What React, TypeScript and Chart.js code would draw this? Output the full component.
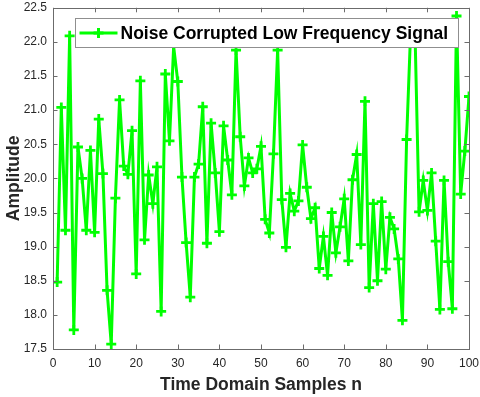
import React, { useEffect, useRef } from 'react';
import { Chart, registerables } from 'chart.js';

Chart.register(...registerables);

const sampleIndex: number[] = [
  1, 2, 3, 4, 5, 6, 7, 8, 9, 10, 11, 12, 13, 14, 15, 16, 17, 18, 19, 20,
  21, 22, 23, 24, 25, 26, 27, 28, 29, 30, 31, 32, 33, 34, 35, 36, 37, 38, 39, 40,
  41, 42, 43, 44, 45, 46, 47, 48, 49, 50, 51, 52, 53, 54, 55, 56, 57, 58, 59, 60,
  61, 62, 63, 64, 65, 66, 67, 68, 69, 70, 71, 72, 73, 74, 75, 76, 77, 78, 79, 80,
  81, 82, 83, 84, 85, 86, 87, 88, 89, 90, 91, 92, 93, 94, 95, 96, 97, 98, 99, 100,
];

const amplitude: number[] = [
  18.48, 21.04, 19.24, 22.09, 17.78, 20.46, 20.0, 19.24, 20.41, 19.21,
  20.87, 20.07, 18.36, 17.57, 19.71, 21.15, 20.18, 20.06, 20.7, 18.6,
  21.43, 19.1, 20.05, 19.63, 20.17, 18.05, 21.53, 20.55, 21.93, 21.42,
  20.02, 19.06, 18.26, 20.02, 20.21, 21.05, 19.05, 20.81, 20.08, 19.22,
  20.77, 20.27, 19.76, 21.88, 20.61, 19.89, 20.3, 20.08, 20.14, 20.47,
  19.4, 19.2, 20.36, 21.88, 19.69, 18.99, 19.78, 19.52, 19.67, 20.49,
  19.87, 19.41, 19.57, 18.68, 19.15, 18.58, 19.5, 18.91, 19.29, 19.7,
  18.79, 19.98, 20.35, 19.03, 21.13, 18.4, 19.63, 18.5, 19.66, 18.67,
  19.43, 19.26, 18.82, 17.92, 20.57, 22.2, 22.2, 19.51, 19.97, 19.53,
  20.08, 19.08, 18.08, 19.97, 18.78, 18.09, 22.38, 19.77, 20.4, 21.2,
];

const seriesLabel = 'Noise Corrupted Low Frequency Signal';
const xTitle = 'Time Domain Samples n';
const yTitle = 'Amplitude';
const xRange = [0, 100];
const yRange = [17.5, 22.5];

const GREEN = '#00ff00';
const FONT = '"Liberation Sans", Arial, Helvetica, sans-serif';

const framePlugin = {
  id: 'matlabFrame',
  afterDraw(chart: any) {
    const { ctx, chartArea: a, scales } = chart;
    ctx.save();
    ctx.strokeStyle = '#6b6b6b';
    ctx.lineWidth = 1;
    ctx.strokeRect(Math.round(a.left) + 0.5, Math.round(a.top) + 0.5, Math.round(a.right - a.left), Math.round(a.bottom - a.top));
    const tl = 4.5;
    ctx.beginPath();
    scales.x.ticks.forEach((t: any) => {
      const px = Math.round(scales.x.getPixelForValue(t.value)) + 0.5;
      ctx.moveTo(px, a.bottom);
      ctx.lineTo(px, a.bottom - tl);
      ctx.moveTo(px, a.top);
      ctx.lineTo(px, a.top + tl);
    });
    scales.y.ticks.forEach((t: any) => {
      const py = Math.round(scales.y.getPixelForValue(t.value)) + 0.5;
      ctx.moveTo(a.left, py);
      ctx.lineTo(a.left + tl, py);
      ctx.moveTo(a.right, py);
      ctx.lineTo(a.right - tl, py);
    });
    ctx.stroke();

    // legend box inside axes
    const bx = Math.round(a.left + 22) + 0.5;
    const by = Math.round(a.top + 10) + 0.5;
    const bw = Math.round(a.right - a.left - 33);
    const bh = 29;
    ctx.fillStyle = '#ffffff';
    ctx.fillRect(bx, by, bw, bh);
    ctx.strokeStyle = '#8f8f8f';
    ctx.lineWidth = 1;
    ctx.strokeRect(bx, by, bw, bh);
    const cy = by + bh / 2;
    ctx.strokeStyle = GREEN;
    ctx.lineWidth = 3;
    ctx.beginPath();
    ctx.moveTo(bx + 4, cy);
    ctx.lineTo(bx + 42, cy);
    ctx.stroke();
    const mx = bx + 23;
    ctx.beginPath();
    ctx.moveTo(mx - 5, cy);
    ctx.lineTo(mx + 5, cy);
    ctx.moveTo(mx, cy - 5);
    ctx.lineTo(mx, cy + 5);
    ctx.stroke();
    ctx.fillStyle = '#000000';
    ctx.font = 'bold 17.5px ' + FONT;
    ctx.textAlign = 'left';
    ctx.textBaseline = 'middle';
    ctx.fillText(seriesLabel, bx + 45, cy + 1);
    ctx.restore();
  },
};

export default function App() {
  const canvasRef = useRef<HTMLCanvasElement | null>(null);

  useEffect(() => {
    document.body.style.margin = '0';
    const canvas = canvasRef.current;
    if (!canvas) return;
    const points = sampleIndex.map((x, i) => ({ x, y: amplitude[i] }));
    const chart = new Chart(canvas, {
      type: 'line',
      data: {
        datasets: [
          {
            label: seriesLabel,
            data: points,
            borderColor: GREEN,
            backgroundColor: GREEN,
            borderWidth: 3,
            pointStyle: 'cross',
            pointRadius: 5,
            pointBorderWidth: 2.8,
            pointBorderColor: GREEN,
            pointHoverRadius: 5,
            tension: 0,
            fill: false,
          },
        ],
      },
      options: {
        responsive: false,
        animation: false,
        devicePixelRatio: 1,
        layout: { padding: { top: 7, right: 11, bottom: 0, left: 0 } },
        plugins: {
          legend: { display: false },
          tooltip: { enabled: false },
        },
        scales: {
          x: {
            type: 'linear',
            min: xRange[0],
            max: xRange[1],
            ticks: {
              stepSize: 10,
              color: '#262626',
              font: { family: FONT, size: 12 },
              padding: 7,
              maxRotation: 0,
            },
            grid: { display: true, drawOnChartArea: false, drawTicks: false },
            border: { display: false },
            title: {
              display: true,
              text: xTitle,
              color: '#262626',
              font: { family: FONT, size: 17.5, weight: 'bold' },
              padding: { top: 0, bottom: 1 },
            },
            afterFit: (s: any) => {
              s.height = 48;
              s.paddingLeft = 0;
              s.paddingRight = 0;
            },
          },
          y: {
            type: 'linear',
            min: yRange[0],
            max: yRange[1],
            ticks: {
              stepSize: 0.5,
              color: '#262626',
              font: { family: FONT, size: 12 },
              padding: 6,
            },
            grid: { display: true, drawOnChartArea: false, drawTicks: false },
            border: { display: false },
            title: {
              display: true,
              text: yTitle,
              color: '#262626',
              font: { family: FONT, size: 17.5, weight: 'bold' },
              padding: { top: 4, bottom: 0 },
            },
            afterFit: (s: any) => {
              s.width = 53;
              s.paddingTop = 0;
              s.paddingBottom = 0;
            },
          },
        },
      },
      plugins: [framePlugin],
    });
    return () => chart.destroy();
  }, []);

  return (
    <div style={{ width: 480, height: 397, background: '#fff' }}>
      <canvas ref={canvasRef} width={480} height={397} style={{ display: 'block' }} />
    </div>
  );
}
